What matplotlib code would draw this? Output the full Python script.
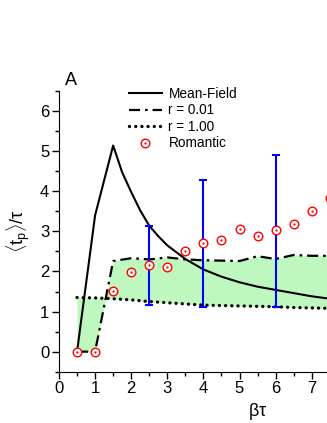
import matplotlib
matplotlib.use("Agg")
import matplotlib.pyplot as plt
import numpy as np
from matplotlib.legend_handler import HandlerTuple

plt.rcParams['font.family'] = ['Liberation Sans', 'DejaVu Sans']
plt.rcParams['mathtext.fontset'] = 'custom'
plt.rcParams['mathtext.rm'] = 'Liberation Sans'
plt.rcParams['mathtext.it'] = 'Liberation Sans'

# Mean-Field
mf_x = [0.5, 1.0, 1.5, 1.75, 2.0, 2.25, 2.5, 2.75, 3.0, 3.5, 4.0, 4.5, 5.0, 5.5, 6.0, 6.5, 7.0, 7.5]
mf_y = [0.0, 3.4, 5.14, 4.47, 3.98, 3.52, 3.14, 2.88, 2.65, 2.31, 2.05, 1.87, 1.73, 1.62, 1.54, 1.46, 1.38, 1.32]

# r = 0.01
r1_x = [0.5, 1.0, 1.5, 2.0, 2.5, 3.0, 3.5, 4.0, 4.5, 5.0, 5.5, 6.0, 6.5, 7.0, 7.5]
r1_y = [0.0, 0.0, 2.26, 2.33, 2.30, 2.35, 2.30, 2.28, 2.27, 2.26, 2.38, 2.31, 2.41, 2.39, 2.39]

# r = 1.00
r2_x = [0.5, 1.0, 1.5, 2.0, 2.5, 3.0, 3.5, 4.0, 4.5, 5.0, 5.5, 6.0, 6.5, 7.0, 7.5]
r2_y = [1.35, 1.34, 1.32, 1.29, 1.25, 1.22, 1.19, 1.16, 1.15, 1.14, 1.13, 1.12, 1.10, 1.09, 1.08]

# Romantic
rom_x = [0.5, 1.0, 1.5, 2.0, 2.5, 3.0, 3.5, 4.0, 4.5, 5.0, 5.5, 6.0, 6.5, 7.0, 7.5]
rom_y = [0.0, 0.0, 1.51, 1.99, 2.15, 2.11, 2.52, 2.71, 2.78, 3.06, 2.89, 3.03, 3.18, 3.51, 3.83]

# Error bars (blue)
err_x = [2.5, 4.0, 6.0]
err_lo = [1.17, 1.12, 1.12]
err_hi = [3.14, 4.28, 4.90]

x_ticks = [0, 1, 2, 3, 4, 5, 6, 7]
y_ticks = [0, 1, 2, 3, 4, 5, 6]

W, H = 327, 423
fig = plt.figure(figsize=(W / 100, H / 100), dpi=100)
x0px, ypx_bot, ypx_top = 59, 371.7, 91
unit = 36.1
xmax = 11
ax = fig.add_axes([x0px / W, 1 - ypx_bot / H, xmax * unit / W, (ypx_bot - ypx_top) / H])

ax.fill_between(r1_x, r1_y, r2_y, color='#bff8bf', lw=0, zorder=1)
l1, = ax.plot(mf_x, mf_y, color='black', lw=1.5, zorder=3)
l2, = ax.plot(r1_x, r1_y, color='black', lw=1.6, ls=(0, (5, 2.2, 1.2, 2.2)), zorder=3)
l3, = ax.plot(r2_x, r2_y, color='black', lw=2.4, ls=(0, (0.01, 1.85)),
              dash_capstyle='round', zorder=3)

mid = [(a + b) / 2 for a, b in zip(err_lo, err_hi)]
ax.errorbar(err_x, mid, yerr=[np.subtract(mid, err_lo), np.subtract(err_hi, mid)],
            fmt='none', ecolor='#0000ff', elinewidth=1.5, capsize=2.6, capthick=1.5, zorder=4)

c, = ax.plot(rom_x, rom_y, ls='none', marker='o', ms=6.2, mfc='white', mec='#ff0000',
             mew=1.0, zorder=5, clip_on=False)
d, = ax.plot(rom_x, rom_y, ls='none', marker='o', ms=1.2, mfc='#ff0000', mec='#ff0000',
             mew=0.3, zorder=6, clip_on=False)

ax.set_xlim(0, xmax)
ax.set_ylim(-0.5, 6.5)
ax.set_xticks(x_ticks)
ax.set_xticks(np.arange(0.5, 8, 1.0), minor=True)
ax.set_yticks(y_ticks)
ax.set_yticks(np.arange(-0.5, 6.6, 1.0), minor=True)
ax.spines['top'].set_visible(False)
ax.spines['right'].set_visible(False)
ax.tick_params(which='major', direction='out', length=5, width=1, labelsize=12, pad=2)
ax.tick_params(which='minor', direction='out', length=3, width=1)

ax.set_xlabel(r'$\beta\tau$', fontsize=13, labelpad=3)
ax.set_ylabel(r'$\langle \mathrm{t_p} \rangle/\tau$', fontsize=13, labelpad=6)

fig.text(65 / W, 1 - 80 / H, 'A', fontsize=13, va='center', ha='left')

leg = fig.legend([l1, l2, l3, (c, d)], ['Mean-Field', 'r = 0.01', 'r = 1.00', 'Romantic'],
                 handler_map={tuple: HandlerTuple(ndivide=1)},
                 loc='upper left', bbox_to_anchor=(129 / W, 1 - 87 / H),
                 bbox_transform=fig.transFigure, frameon=False, fontsize=9.8,
                 handlelength=2.4, handletextpad=0.5, labelspacing=0.18,
                 borderpad=0, borderaxespad=0)

fig.savefig('out.png', dpi=100)
